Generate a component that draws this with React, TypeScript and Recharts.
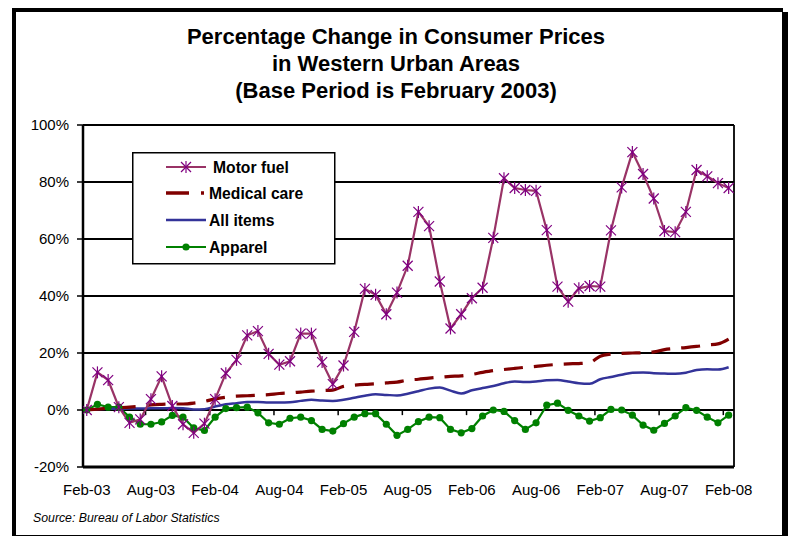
import React from "react";
import {
  LineChart,
  Line,
  XAxis,
  YAxis,
  CartesianGrid,
  Legend,
  ReferenceLine,
} from "recharts";

const monthNames = ["Jan", "Feb", "Mar", "Apr", "May", "Jun", "Jul", "Aug", "Sep", "Oct", "Nov", "Dec"];

// Feb-03 .. Feb-08, monthly
const months = Array.from({ length: 61 }, (_, k) => {
  const m = (1 + k) % 12;
  const y = 3 + Math.floor((1 + k) / 12);
  return `${monthNames[m]}-0${y}`;
});

const tickLabels = [
  "Feb-03", "Aug-03", "Feb-04", "Aug-04", "Feb-05", "Aug-05",
  "Feb-06", "Aug-06", "Feb-07", "Aug-07", "Feb-08",
];

const motorFuel = [
  0, 13.2, 10.5, 1, -4.5, -3.3, 3.8, 11.8, 1.4, -5, -8, -4.8,
  3.8, 12.9, 17.6, 26.2, 27.7, 19.7, 15.9, 17.1, 26.8, 26.8, 16.8, 9.1,
  15.6, 27.4, 42.5, 40.4, 33.6, 41.2, 50.6, 69.5, 64.5, 45.1, 28.6, 33.6,
  39.2, 42.9, 60.4, 81.3, 77.9, 77.2, 76.9, 63.1, 43.3, 38, 42.7, 43.5,
  43.3, 63, 78.1, 90.5, 82.8, 74.2, 62.8, 62.4, 69.5, 84.2, 82, 79.6, 77.9,
];

const medicalCare = [
  0, 0.3, 0.6, 0.8, 1.0, 1.3, 1.8, 2.0, 2.1, 2.1, 2.4, 3.0,
  3.9, 4.5, 4.9, 5.0, 5.2, 5.4, 5.8, 6.0, 6.3, 6.6, 6.8, 7.0,
  8.3, 8.7, 9.0, 9.2, 9.5, 9.8, 10.5, 10.8, 11.2, 11.5, 11.8, 12.0,
  12.5, 13.2, 13.8, 14.2, 14.6, 15.0, 15.3, 15.7, 16.0, 16.2, 16.3, 16.6,
  18.9, 19.6, 19.9, 20.0, 20.1, 20.4, 21.2, 21.6, 21.9, 22.3, 22.8, 23.2, 24.9,
];

const allItems = [
  0, 0.3, 0.4, 0.4, 0.5, 0.5, 0.6, 0.6, 0.7, 0.6, 0.2, 0.3,
  1.2, 2.0, 2.4, 2.8, 2.8, 2.6, 2.6, 2.7, 3.2, 3.6, 3.3, 3.2,
  3.6, 4.3, 5.0, 5.5, 5.3, 5.1, 5.7, 6.6, 7.5, 7.9, 6.8, 5.8,
  6.9, 7.7, 8.4, 9.4, 10.0, 9.8, 10.0, 10.4, 10.5, 10.0, 9.4, 9.2,
  10.8, 11.6, 12.4, 13.1, 13.2, 12.9, 12.8, 12.7, 13.1, 14.0, 14.3, 14.2, 15.0,
];

const apparel = [
  0, 2, 1, 1, -2.5, -5, -5, -4.2, -1.9, -2.5, -6.3, -7.2,
  -2.5, 0.5, 0.8, 1, -1, -4.5, -5, -2.9, -2.5, -3.7, -6.8, -7.4,
  -4.8, -2.5, -1.3, -1.3, -5, -8.9, -6.8, -4.1, -2.5, -2.7, -6.8, -8,
  -6.5, -2.1, 0, -0.5, -3.7, -6.8, -4.5, 1.7, 2.4, -0.1, -2.1, -3.9,
  -2.7, 0.2, 0, -1.8, -5.3, -7.1, -4.7, -2.1, 0.8, -0.1, -2.5, -4.5, -1.8,
];

const data = months.map((month, i) => ({
  i,
  month,
  motorFuel: motorFuel[i],
  medicalCare: medicalCare[i],
  allItems: allItems[i],
  apparel: apparel[i],
}));

const FONT = "'Liberation Sans', Arial, sans-serif";

const Star = (props: any) => {
  const { cx, cy } = props;
  if (cx == null || cy == null) return null;
  const s = 5;
  return (
    <g stroke="#800080" strokeWidth={1.2}>
      <line x1={cx - s} y1={cy - s} x2={cx + s} y2={cy + s} />
      <line x1={cx - s} y1={cy + s} x2={cx + s} y2={cy - s} />
      <line x1={cx} y1={cy - 6} x2={cx} y2={cy + 6} />
    </g>
  );
};

const GreenDot = (props: any) => {
  const { cx, cy } = props;
  if (cx == null || cy == null) return null;
  return <circle cx={cx} cy={cy} r={3.6} fill="#008000" />;
};

const XTick = (props: any) => {
  const { x, payload } = props;
  return (
    <text x={x} y={495} textAnchor="middle" fontSize={15} fontFamily={FONT} fill="#000">
      {tickLabels[Math.round(payload.value / 6)]}
    </text>
  );
};

const renderLegend = () => {
  const rows = [
    { label: "Motor fuel", y: 15, tx: 81 },
    { label: "Medical care", y: 41, tx: 77 },
    { label: "All items", y: 68, tx: 77 },
    { label: "Apparel", y: 95, tx: 77 },
  ];
  return (
    <svg width={204} height={113} style={{ display: "block" }}>
      <rect x={0.75} y={0.75} width={202} height={111} fill="#fff" stroke="#000" strokeWidth={1.5} />
      <line x1={34} y1={rows[0].y} x2={74} y2={rows[0].y} stroke="#993366" strokeWidth={2} />
      <Star cx={54} cy={rows[0].y} />
      <line x1={34} y1={rows[1].y} x2={74} y2={rows[1].y} stroke="#800000" strokeWidth={3.5} strokeDasharray="23 12 3" />
      <line x1={34} y1={rows[2].y} x2={74} y2={rows[2].y} stroke="#333399" strokeWidth={2.5} />
      <line x1={34} y1={rows[3].y} x2={74} y2={rows[3].y} stroke="#008000" strokeWidth={2} />
      <GreenDot cx={54} cy={rows[3].y} />
      {rows.map((r) => (
        <text key={r.label} x={r.tx} y={r.y + 5.5} fontSize={15.7} fontWeight="bold" fontFamily={FONT} fill="#000">
          {r.label}
        </text>
      ))}
    </svg>
  );
};

const axisTicks = [5.5, 11.5, 17.5, 23.5, 29.5, 35.5, 41.5, 47.5, 53.5, 59.5];

export default function App() {
  return (
    <div style={{ position: "absolute", left: 0, top: 0, width: 788, height: 537, background: "#fff", fontFamily: FONT }}>
      <div
        style={{
          position: "absolute",
          left: 12,
          top: 8,
          width: 766,
          height: 523,
          borderLeft: "4px solid #000",
          borderTop: "4px solid #000",
          borderRight: "1px solid #000",
          borderBottom: "1px solid #000",
        }}
      />
      <div style={{ position: "absolute", left: 783, top: 12, width: 5, height: 524, background: "#000" }} />
      <div
        style={{
          position: "absolute",
          left: 0,
          top: 23,
          width: 792,
          textAlign: "center",
          fontSize: 22,
          fontWeight: "bold",
          lineHeight: "27px",
          color: "#000",
        }}
      >
        <div>Percentage Change in Consumer Prices</div>
        <div>in Western Urban Areas</div>
        <div>(Base Period is February 2003)</div>
      </div>
      <div style={{ position: "absolute", left: 33, top: 511, fontSize: 12.3, fontStyle: "italic", color: "#000" }}>
        Source: Bureau of Labor Statistics
      </div>
      <div style={{ position: "absolute", left: 0, top: 0 }}>
        <LineChart width={788} height={537} data={data} margin={{ top: 125, right: 54, bottom: 40, left: 23 }}>
          <CartesianGrid stroke="#000" strokeWidth={1.8} vertical={true} verticalPoints={[734]} horizontal={true} />
          <XAxis
            dataKey="i"
            type="number"
            domain={[-0.35, 60.5]}
            ticks={[0, 6, 12, 18, 24, 30, 36, 42, 48, 54, 60]}
            tick={<XTick />}
            axisLine={false}
            tickLine={false}
            height={30}
            allowDataOverflow
          />
          <YAxis
            domain={[-20, 100]}
            ticks={[-20, 0, 20, 40, 60, 80, 100]}
            tickFormatter={(v: number) => `${v}%`}
            width={60}
            tick={{ fontSize: 15, fontFamily: FONT, fill: "#000" }}
            axisLine={{ stroke: "#000", strokeWidth: 2.5 }}
            tickLine={{ stroke: "#000", strokeWidth: 1.5 }}
            tickSize={6}
            tickMargin={8}
            allowDataOverflow
          />
          <ReferenceLine y={-20} stroke="#000" strokeWidth={3} />
          {axisTicks.map((t) => (
            <ReferenceLine
              key={t}
              segment={[
                { x: t, y: 0 },
                { x: t, y: -1.8 },
              ]}
              stroke="#000"
              strokeWidth={1.5}
            />
          ))}
          <Legend
            content={renderLegend}
            layout="vertical"
            align="center"
            verticalAlign="middle"
            wrapperStyle={{ position: "absolute", left: 132, top: 152, width: 204, height: 113 }}
          />
          <Line
            dataKey="apparel"
            type="linear"
            stroke="#008000"
            strokeWidth={2.2}
            dot={<GreenDot />}
            activeDot={false}
            isAnimationActive={false}
          />
          <Line
            dataKey="allItems"
            type="monotone"
            stroke="#333399"
            strokeWidth={2.5}
            dot={false}
            activeDot={false}
            isAnimationActive={false}
          />
          <Line
            dataKey="medicalCare"
            type="monotone"
            stroke="#800000"
            strokeWidth={3.2}
            strokeDasharray="19 11"
            dot={false}
            activeDot={false}
            isAnimationActive={false}
          />
          <Line
            dataKey="motorFuel"
            type="linear"
            stroke="#993366"
            strokeWidth={2.2}
            dot={<Star />}
            activeDot={false}
            isAnimationActive={false}
          />
        </LineChart>
      </div>
    </div>
  );
}
